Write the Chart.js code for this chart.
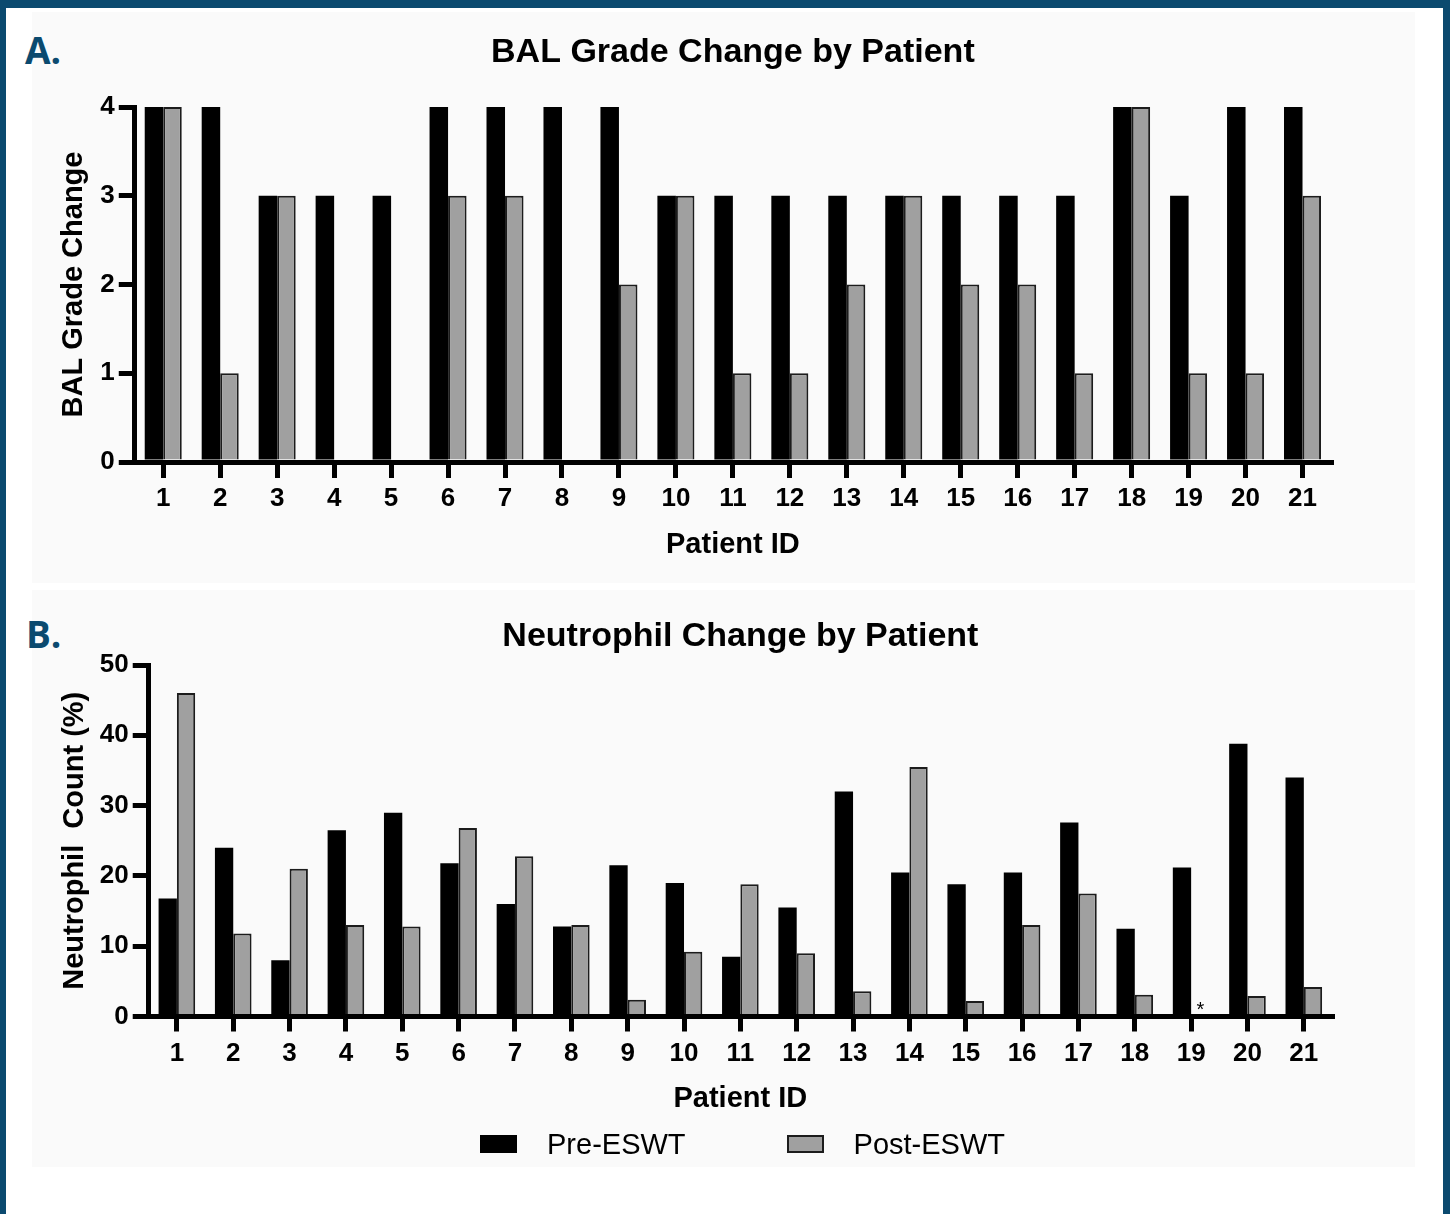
<!DOCTYPE html>
<html>
<head>
<meta charset="utf-8">
<title>BAL Grade and Neutrophil Change by Patient</title>
<script src="https://cdn.jsdelivr.net/npm/chart.js@4.4.1/dist/chart.umd.min.js"></script>
<style>
  body { margin: 0; background: #fff; }
  #page { position: relative; width: 1450px; height: 1214px; overflow: hidden; background: #fff; }
  .edge { position: absolute; background: #0b4a6f; }
  .panel { position: absolute; background: #fafafa; }
  .tag { position: absolute; font-family: "Open Sans", sans-serif; font-weight: 700; font-size: 37px; line-height: 37px; color: #0b4a6f; }
  canvas { position: absolute; left: 0; }
  #legend { position: absolute; left: 480px; top: 1126px; height: 36px; display: flex; align-items: center;
            font-family: "Liberation Sans", Arial, sans-serif; font-size: 29px; color: #000; }
  #legend .item { display: flex; align-items: center; margin-right: 101px; }
  #legend .box { width: 37px; height: 18px; box-sizing: border-box; }
  #legend .label { margin-left: 30px; }
</style>
</head>
<body>
<div id="page">
  <div class="panel" style="left:32px;top:12px;width:1383px;height:571px"></div>
  <div class="panel" style="left:32px;top:590px;width:1383px;height:577px"></div>
  <div class="edge" style="left:0;top:0;width:1450px;height:8px"></div>
  <div class="edge" style="left:0;top:0;width:6px;height:1214px"></div>
  <div class="edge" style="left:1443px;top:0;width:7px;height:1214px"></div>
  <div class="tag" style="left:25px;top:31px">A.</div>
  <div class="tag" style="left:26px;top:615px">B.</div>
  <canvas id="balChart" width="1450" height="585" style="top:0"></canvas>
  <canvas id="neutroChart" width="1450" height="629" style="top:585px"></canvas>
  <div id="legend"></div>
</div>
<script>
// data
const patientIds = ["1", "2", "3", "4", "5", "6", "7", "8", "9", "10", "11",
                    "12", "13", "14", "15", "16", "17", "18", "19", "20", "21"];
const seriesNames = ["Pre-ESWT", "Post-ESWT"];
const seriesColors = ["#000000", "#a0a0a0"];

const balPre  = [4, 4, 3, 3, 3, 4, 4, 4, 4, 3, 3, 3, 3, 3, 3, 3, 3, 4, 3, 4, 4];
const balPost = [4, 1, 3, 0, 0, 3, 3, 0, 2, 3, 1, 1, 2, 3, 2, 2, 1, 4, 1, 1, 3];

const neutroPre  = [16.8, 24, 8, 26.5, 29, 21.8, 16, 12.8, 21.5, 19, 8.5,
                    15.5, 32, 20.5, 18.8, 20.5, 27.6, 12.5, 21.2, 38.8, 34];
const neutroPost = [46, 11.8, 21, 13, 12.8, 26.8, 22.8, 13, 2.4, 9.2, 18.8,
                    9, 3.6, 35.5, 2.2, 13, 17.5, 3.1, null, 2.9, 4.2];
// patient 19 has no post value, marked with an asterisk
const neutroPostNotes = ["", "", "", "", "", "", "", "", "", "", "",
                         "", "", "", "", "", "", "", "*", "", ""];

const fontFamily = '"Liberation Sans", Arial, sans-serif';
Chart.defaults.font.family = fontFamily;
Chart.defaults.color = "#000";

// title centred over the plot area (the built-in one centres on the canvas)
const panelTitle = {
  id: "panelTitle",
  afterDraw(chart, args, opts) {
    const { ctx, chartArea } = chart;
    ctx.save();
    ctx.font = "bold 34px " + fontFamily;
    ctx.fillStyle = "#000";
    ctx.textAlign = "center";
    ctx.textBaseline = "middle";
    ctx.fillText(opts.text, (chartArea.left + chartArea.right) / 2, opts.y);
    ctx.restore();
  },
};

// small text marks sitting on the axis above a bar position
const barNotes = {
  id: "barNotes",
  afterDatasetsDraw(chart, args, opts) {
    if (!opts.notes) return;
    const { ctx } = chart;
    const meta = chart.getDatasetMeta(opts.dataset);
    const base = chart.scales.y.getPixelForValue(0);
    ctx.save();
    ctx.font = "20px " + fontFamily;
    ctx.fillStyle = "#000";
    ctx.textAlign = "center";
    ctx.textBaseline = "alphabetic";
    opts.notes.forEach((t, i) => {
      if (!t) return;
      let x = meta.data[i] ? meta.data[i].x : NaN;
      if (!isFinite(x)) x = chart.scales.x.getPixelForValue(i);
      ctx.fillText(t, x, base - 1);
    });
    ctx.restore();
  },
};

function makeDatasets(pre, post) {
  return [
    {
      label: seriesNames[0],
      data: pre,
      backgroundColor: seriesColors[0],
      borderColor: "#000",
      borderWidth: 0,
    },
    {
      label: seriesNames[1],
      data: post,
      backgroundColor: seriesColors[1],
      borderColor: "#1c1c1c",
      borderWidth: 2,
    },
  ];
}

function makeChart(id, cfg) {
  return new Chart(document.getElementById(id), {
    type: "bar",
    data: { labels: patientIds, datasets: makeDatasets(cfg.pre, cfg.post) },
    options: {
      responsive: false,
      animation: false,
      devicePixelRatio: 1,
      layout: { padding: cfg.padding },
      datasets: { bar: { categoryPercentage: 0.65, barPercentage: 1 } },
      plugins: {
        legend: { display: false },
        tooltip: { enabled: false },
        panelTitle: { text: cfg.title, y: cfg.titleY },
        barNotes: { dataset: 1, notes: cfg.notes },
      },
      scales: {
        x: {
          offset: true,
          grid: { offset: false, drawOnChartArea: false, tickLength: cfg.xTick, lineWidth: 5, color: "#000" },
          border: { width: 5, color: "#000" },
          ticks: { font: { size: 26, weight: "bold" }, padding: cfg.xPad, maxRotation: 0, autoSkip: false },
          title: { display: true, text: "Patient ID", font: { size: 29, weight: "bold" },
                   padding: { top: cfg.xTitlePad, bottom: 0 } },
        },
        y: {
          min: 0,
          max: cfg.yMax,
          grid: { drawOnChartArea: false, tickLength: 16, lineWidth: 5, color: "#000" },
          border: { width: 5, color: "#000" },
          ticks: { stepSize: cfg.yStep, font: { size: 26, weight: "bold" }, padding: 4 },
          title: { display: true, text: cfg.yTitle, font: { size: 29, weight: "bold" },
                   padding: { top: 0, bottom: cfg.yTitlePad } },
        },
      },
    },
    plugins: [panelTitle, barNotes],
  });
}

makeChart("balChart", {
  pre: balPre,
  post: balPost,
  title: "BAL Grade Change by Patient",
  titleY: 53,
  yTitle: "BAL Grade Change",
  yMax: 4,
  yStep: 1,
  padding: { left: 57, right: 119, top: 107, bottom: 23 },
  xTick: 16,
  xPad: 5,
  xTitlePad: 8,
  yTitlePad: 4.5,
});

makeChart("neutroChart", {
  pre: neutroPre,
  post: neutroPost,
  notes: neutroPostNotes,
  title: "Neutrophil Change by Patient",
  titleY: 52,
  yTitle: "Neutrophil  Count (%)",
  yMax: 50,
  yStep: 10,
  padding: { left: 58, right: 118, top: 80, bottom: 98 },
  xTick: 15,
  xPad: 7,
  xTitlePad: 4.5,
  yTitlePad: 3,
});

// legend under the lower chart
const legendDiv = document.getElementById("legend");
seriesNames.forEach((name, i) => {
  const item = document.createElement("div");
  item.className = "item";
  const box = document.createElement("span");
  box.className = "box";
  box.style.background = seriesColors[i];
  if (i === 1) box.style.border = "2px solid #1c1c1c";
  const label = document.createElement("span");
  label.className = "label";
  label.textContent = name;
  item.appendChild(box);
  item.appendChild(label);
  legendDiv.appendChild(item);
});
</script>
</body>
</html>
